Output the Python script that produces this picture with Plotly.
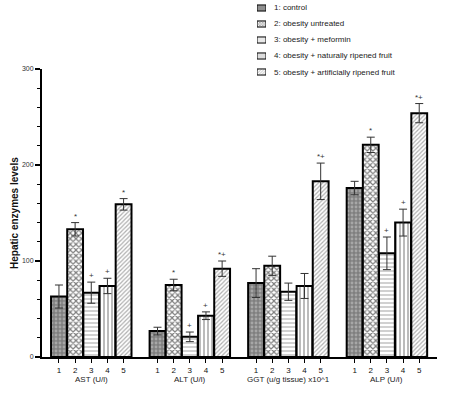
import plotly.graph_objects as go

groups = ["AST (U/l)", "ALT (U/l)", "GGT (u/g tissue) x10^1", "ALP (U/l)"]
series_names = ["1: control", "2: obesity untreated", "3: obesity + meformin",
                "4: obesity + naturally ripened fruit", "5: obesity + artificially ripened fruit"]
bar_labels = ["1", "2", "3", "4", "5"]

# values[series][group]
values = [
    [63, 27, 77, 176],
    [133, 75, 95, 221],
    [67, 21, 68, 108],
    [74, 43, 74, 140],
    [159, 92, 183, 254],
]
errors = [
    [12, 4, 15, 7],
    [7, 6, 10, 8],
    [11, 5, 9, 17],
    [8, 4, 13, 14],
    [6, 8, 19, 10],
]
signif = [
    ["", "", "", ""],
    ["*", "*", "", "*"],
    ["+", "+", "", "+"],
    ["+", "+", "", "+"],
    ["*", "*+", "*+", "*+"],
]

W, H = 464, 394
G = 6.1
patterns = [
    dict(shape=".", bgcolor="#7f7f7f", fgcolor="#cfcfcf", size=4, solidity=0.4),
    dict(shape="x", bgcolor="white", fgcolor="black", size=4, solidity=0.5),
    dict(shape="-", bgcolor="white", fgcolor="#9a9a9a", size=4, solidity=0.45),
    dict(shape="|", bgcolor="white", fgcolor="#555555", size=4, solidity=0.4),
    dict(shape="/", bgcolor="white", fgcolor="#606060", size=3, solidity=0.4),
]
FONT = "Liberation Sans, Arial"

fig = go.Figure()
tickvals, ticktext = [], []
annotations = []
for s in range(5):
    xs = [g * G + s + 1 for g in range(len(groups))]
    fig.add_trace(go.Bar(
        x=xs, y=values[s], name=series_names[s], width=0.98, showlegend=False,
        marker=dict(color=patterns[s]["bgcolor"], pattern=patterns[s],
                    line=dict(color="black", width=2)),
        error_y=dict(type="data", array=errors[s], color="#333333", thickness=1, width=4),
    ))
    for g in range(len(groups)):
        tickvals.append(xs[g])
        ticktext.append(bar_labels[s])
        if signif[s][g]:
            annotations.append(dict(
                x=xs[g], y=values[s][g] + errors[s][g], xref="x", yref="y",
                text=signif[s][g], showarrow=False, yanchor="bottom", yshift=0,
                font=dict(size=8, color="#333333", family=FONT)))

# custom legend: small patterned swatches on a helper axis, labels as text
for s in range(5):
    fig.add_trace(go.Bar(
        x=[1], y=[s], orientation="h", width=0.38, showlegend=False, hoverinfo="skip",
        xaxis="x2", yaxis="y2",
        marker=dict(color=patterns[s]["bgcolor"],
                    pattern=dict(patterns[s], size=2),
                    line=dict(color="black", width=1)),
    ))
    annotations.append(dict(
        x=272 / W, y=1 - (8 + 16 * s) / H, xref="paper", yref="paper",
        xanchor="left", yanchor="middle", text=series_names[s], showarrow=False,
        font=dict(size=8, color="#222222", family=FONT)))

for g, name in enumerate(groups):
    annotations.append(dict(
        x=g * G + 3, y=0.0939, xref="x", yref="paper", text=name, showarrow=False,
        yanchor="middle", yshift=-22,
        font=dict(size=8, color="#222222", family=FONT)))

annotations.append(dict(
    x=14 / W, y=1 - 213 / H, xref="paper", yref="paper", xanchor="center", yanchor="middle",
    text="<b>Hepatic enzymes levels</b>", textangle=-90, showarrow=False,
    font=dict(size=10, color="#111111", family=FONT)))

fig.update_layout(
    width=W, height=H,
    margin=dict(l=0, r=0, t=0, b=0, autoexpand=False),
    paper_bgcolor="white", plot_bgcolor="rgba(0,0,0,0)",
    barmode="overlay",
    font=dict(family=FONT, size=8, color="#222222"),
    showlegend=False,
    annotations=annotations,
    xaxis=dict(domain=[42 / W, 437 / W], range=[-0.05, 24.4], tickvals=tickvals, ticktext=ticktext,
               showgrid=False, zeroline=False, showline=True, linecolor="black",
               linewidth=2, ticks="outside", ticklen=4, tickwidth=1, tickcolor="black",
               tickfont=dict(size=8, color="#111111")),
    yaxis=dict(domain=[37 / H, 1 - 69 / H], range=[0, 300], tickvals=[0, 100, 200, 300],
               showgrid=False, zeroline=False,
               showline=True, linecolor="black", linewidth=2, ticks="outside",
               ticklen=5, tickwidth=2, tickcolor="black",
               tickfont=dict(size=7, color="#333333"),
               minor=dict(dtick=20, ticks="outside", ticklen=3, tickwidth=1, tickcolor="black")),
    xaxis2=dict(domain=[257 / W, 266 / W], range=[0, 1], visible=False, fixedrange=True),
    yaxis2=dict(domain=[1 - 80 / H, 1.0], range=[4.5, -0.5], visible=False, fixedrange=True),
)

fig.write_html("out.html", config={"displayModeBar": False},
               post_script="document.body.style.margin='0px';")
